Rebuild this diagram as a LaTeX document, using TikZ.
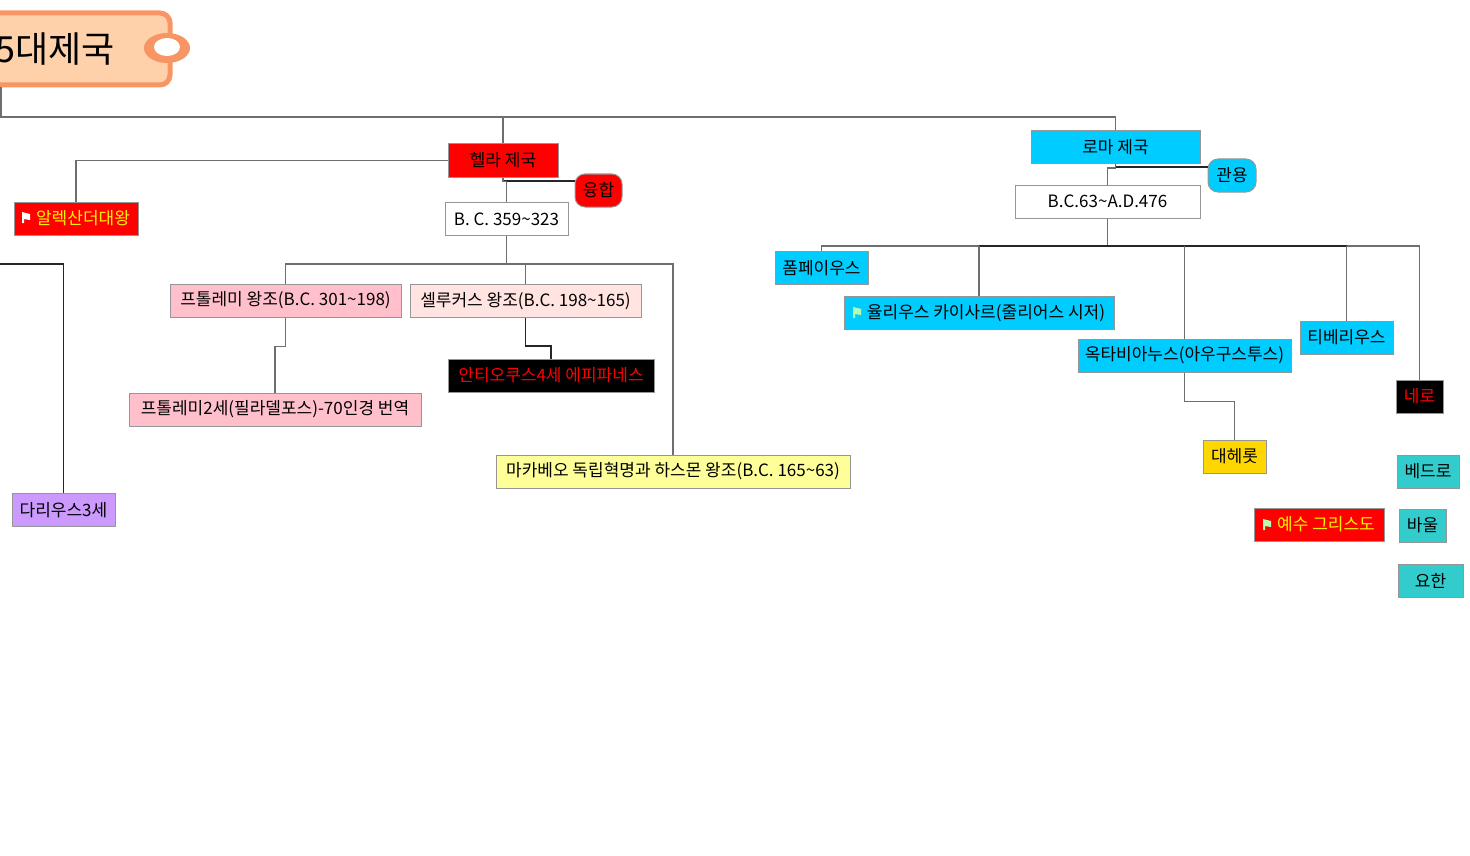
\documentclass[tikz,border=0pt]{standalone}
\usepackage{fontspec}
\setmainfont{Noto Sans CJK KR}
\usepackage{xcolor}
\definecolor{rootfill}{RGB}{255,209,170}
\definecolor{rootedge}{RGB}{247,150,100}
\definecolor{romeblue}{RGB}{0,204,255}
\definecolor{ptolpink}{RGB}{255,192,203}
\definecolor{seleurose}{RGB}{255,228,225}
\definecolor{maccayellow}{RGB}{255,255,153}
\definecolor{darviolet}{RGB}{204,153,255}
\definecolor{herodgold}{RGB}{255,215,0}
\definecolor{apostleteal}{RGB}{51,204,204}
\definecolor{linkgray}{RGB}{110,110,110}
\definecolor{edgegray}{RGB}{150,150,150}
\newcommand{\flagicon}[3]{% x y colour
  \fill[#3] (#1-4,#2-5) -- (#1+4,#2-3) -- (#1+4,#2+3) -- (#1-2,#2+2) -- (#1-2,#2+6) -- (#1-4,#2+6) -- cycle;
}
\tikzset{
  mapbox/.style={draw=edgegray,line width=1pt,inner sep=0pt,minimum height=33pt,font=\fontsize{17}{20}\selectfont},
  badge/.style={mapbox,rounded corners=10pt},
  link/.style={draw=linkgray,line width=1.3pt},
  darklink/.style={draw=black!85,line width=1.3pt}
}

\begin{document}
\begin{tikzpicture}[x=1pt,y=-1pt]
  \useasboundingbox (0,0) rectangle (1470,856);
  % top tag
  \node[draw=rootedge,fill=rootfill,line width=5pt,rounded corners=10pt,inner sep=0pt,
        minimum width=230pt,minimum height=72pt,font=\fontsize{36}{38}\selectfont] (root) at (55,49) {\raisebox{3pt}{5대제국}};
  \fill[rootedge] (167,48) ellipse (23 and 15);
  \fill[white] (167,47) ellipse (13 and 9);
  % hella side
  \node[mapbox,fill=red,minimum width=110pt] (hella) at (503,160.5) {헬라 제국};
  \node[badge,fill=red,minimum width=47pt] (fusion) at (598.5,190.5) {융합};
  \node[mapbox,fill=white,minimum width=123pt] (hellayears) at (506.5,219) {B. C. 359\textasciitilde 323};
  \node[mapbox,fill=red,text=yellow,minimum width=124pt] (alex) at (76,218.5) {\hspace*{14pt}알렉산더대왕};
  \node[mapbox,fill=ptolpink,minimum width=231pt] (ptol) at (285.5,300.5) {프톨레미 왕조(B.C. 301\textasciitilde 198)};
  \node[mapbox,fill=seleurose,minimum width=231pt] (seleu) at (525.5,301) {셀루커스 왕조(B.C. 198\textasciitilde 165)};
  \node[mapbox,fill=black,text=red,minimum width=206pt] (antio) at (551,375.5) {안티오쿠스4세  에피파네스};
  \node[mapbox,fill=ptolpink,minimum width=292pt] (ptoltwo) at (275,409.5) {프톨레미2세(필라델포스)-70인경 번역};
  \node[mapbox,fill=maccayellow,minimum width=354pt] (macca) at (673,471.5) {마카베오 독립혁명과 하스몬 왕조(B.C. 165\textasciitilde 63)};
  \node[mapbox,fill=darviolet,minimum width=103pt] (darius) at (63.5,510) {다리우스3세};
  % rome side
  \node[mapbox,fill=romeblue,minimum width=169pt] (rome) at (1115.5,147) {로마 제국};
  \node[badge,fill=romeblue,minimum width=48pt] (mercy) at (1232,175.5) {관용};
  \node[mapbox,fill=white,minimum width=185pt] (romeyears) at (1107.5,201.5) {B.C.63\textasciitilde A.D.476};
  \node[mapbox,fill=romeblue,minimum width=93pt] (pomp) at (821.5,268) {폼페이우스};
  \node[mapbox,fill=romeblue,minimum width=270pt] (caesar) at (979,313) {\hspace*{14pt}율리우스 카이사르(줄리어스 시저)};
  \node[mapbox,fill=romeblue,minimum width=213pt] (octa) at (1184.5,355.5) {옥타비아누스(아우구스투스)};
  \node[mapbox,fill=romeblue,minimum width=93pt] (tiber) at (1346.5,337.5) {티베리우스};
  \node[mapbox,fill=black,text=red,minimum width=47pt] (nero) at (1419.5,396.5) {네로};
  \node[mapbox,fill=herodgold,minimum width=63pt] (herod) at (1234.5,456.5) {대헤롯};
  \node[mapbox,fill=red,text=yellow,minimum width=130pt] (jesus) at (1319,524.5) {\hspace*{14pt}예수 그리스도};
  \node[mapbox,fill=apostleteal,minimum width=62pt] (peter) at (1428,471.5) {베드로};
  \node[mapbox,fill=apostleteal,minimum width=47pt] (paul) at (1422.5,525.5) {바울};
  \node[mapbox,fill=apostleteal,minimum width=65pt] (john) at (1430.5,580.5) {요한};
  \flagicon{26}{217}{white}
  \flagicon{857}{312}{white!70!green}
  \flagicon{1267}{524}{white!70!green}
  % free ends
  \coordinate (rootdrop) at (1,87);
  \coordinate (trunk) at (503,117);
  \coordinate (fusionin) at (575,181);
  \coordinate (hellabar) at (506.5,264);
  \coordinate (darend) at (0,264);
  \coordinate (mercyin) at (1208,167);
  \coordinate (romebar) at (1107.5,246);
  % connectors
  \draw[link] (rootdrop) |- (trunk) -| (rome.north);
  \draw[link] (trunk) -- (hella.north);
  \draw[link] (hella.west) -| (alex.north);
  \draw[darklink] (hella.south) |- (fusionin);
  \draw[link] (hella.south) -- ++(0,4) -| (hellayears.north);
  \draw[link] (hellayears.south) -- (hellabar);
  \draw[link] (ptol.north) |- (hellabar) -| (macca.north);
  \draw[link] (hellabar) -| (seleu.north);
  \draw[link] (ptol.south) -- ++(0,29) -| (ptoltwo.north);
  \draw[darklink] (seleu.south) -- ++(0,28) -| (antio.north);
  \draw[darklink] (darius.north) |- (darend);
  \draw[darklink] (rome.south) |- (mercyin);
  \draw[link] (rome.south) -- ++(0,4) -| (romeyears.north);
  \draw[link] (romeyears.south) -- (romebar);
  \draw[link] (pomp.north) |- (romebar) -| (nero.north);
  \draw[darklink] (caesar.north |- romebar) -- (tiber.north |- romebar);
  \draw[link] (caesar.north) -- (caesar.north |- romebar);
  \draw[link] (octa.north) -- (octa.north |- romebar);
  \draw[link] (tiber.north) -- (tiber.north |- romebar);
  \draw[link] (octa.south) -- ++(0,29) -| (herod.north);
\end{tikzpicture}
\end{document}
